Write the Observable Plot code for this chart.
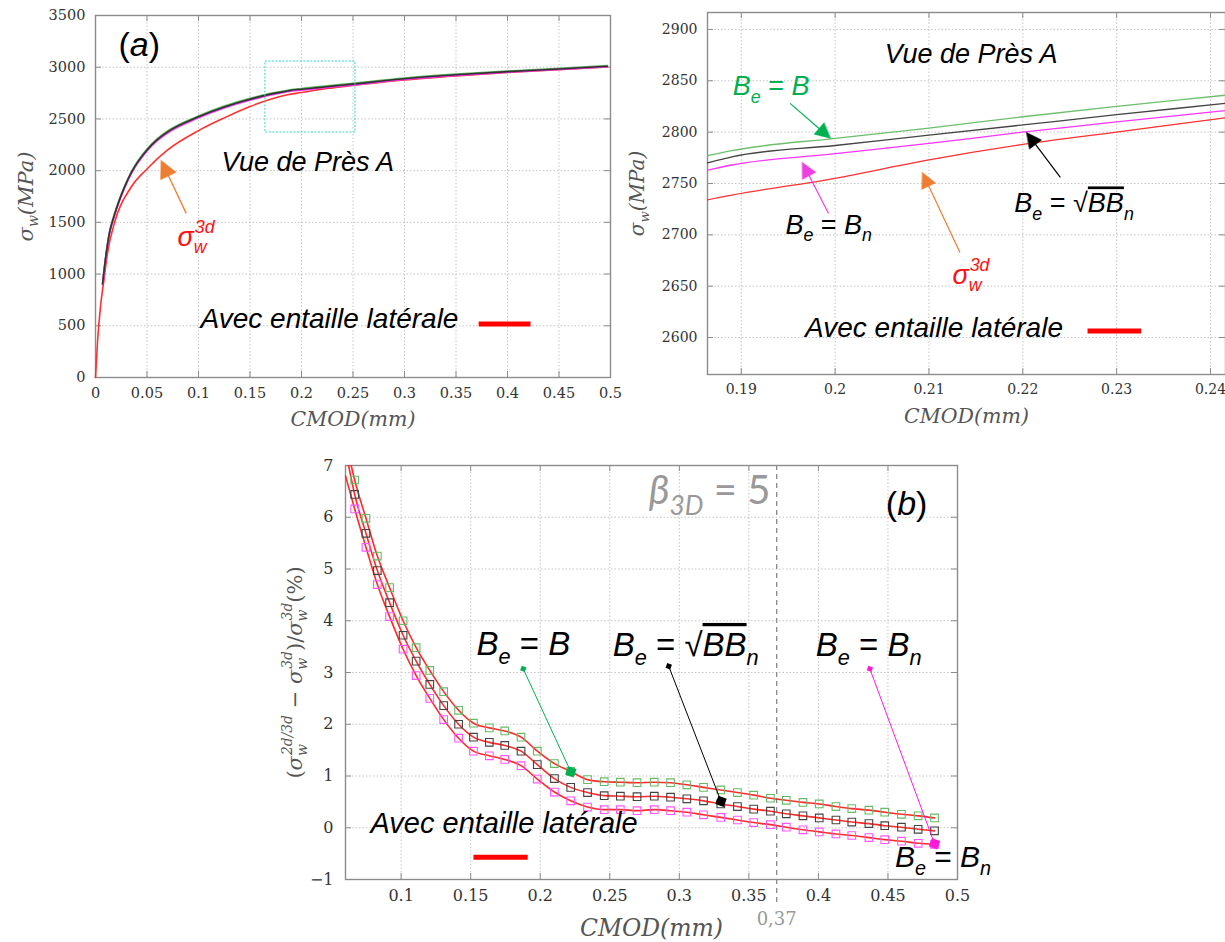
<!DOCTYPE html>
<html><head><meta charset="utf-8">
<script src="https://cdn.jsdelivr.net/npm/d3@7"></script>
<script src="https://cdn.jsdelivr.net/npm/@observablehq/plot@0.6"></script>
<style>
body{margin:0;background:#fff}
#wrap{position:relative;width:1225px;height:942px;overflow:hidden;background:#fff}
.panel{position:absolute}
g[fill="#000001"] text{text-decoration:overline}
</style></head>
<body>
<div id="wrap">
  <div id="pa" class="panel" style="left:0;top:0"></div>
  <div id="pz" class="panel" style="left:620px;top:0"></div>
  <div id="pb" class="panel" style="left:260px;top:440px"></div>
</div>
<script>
// ---------------- DATA ----------------
// Panel (a) and zoom: sigma_w (MPa) vs CMOD (mm)
const cmodSim     = [0.0069, 0.0095, 0.0134, 0.018, 0.023, 0.029, 0.035, 0.05, 0.06, 0.07, 0.1, 0.125, 0.15, 0.17, 0.1864, 0.189, 0.2, 0.21, 0.22, 0.23, 0.2416, 0.3, 0.35, 0.4, 0.45, 0.497];
const sigmaBeB    = [913, 1138, 1398, 1568, 1718, 1868, 1993, 2209, 2309, 2384, 2528, 2623, 2698, 2747, 2777, 2782, 2794, 2804, 2815, 2825, 2836, 2895, 2932, 2962, 2988, 3014];
const sigmaBeSqrt = [905, 1130, 1390, 1560, 1710, 1860, 1985, 2200, 2300, 2375, 2520, 2615, 2690, 2740, 2770, 2776, 2787, 2797, 2807, 2817, 2828, 2889, 2927, 2957, 2983, 3010];
const sigmaBeBn   = [898, 1122, 1382, 1552, 1702, 1851, 1976, 2190, 2290, 2365, 2511, 2606, 2681, 2732, 2763, 2768, 2779, 2789, 2800, 2810, 2821, 2883, 2922, 2953, 2979, 3006];
const cmod3d      = [0, 0.002, 0.005, 0.008, 0.0115, 0.019, 0.0345, 0.05, 0.07, 0.1, 0.125, 0.15, 0.17, 0.1864, 0.2, 0.21, 0.22, 0.23, 0.2416, 0.3, 0.35, 0.4, 0.45, 0.497];
const sigma3d     = [0, 350, 700, 930, 1194, 1516, 1839, 2016, 2200, 2387, 2510, 2620, 2690, 2734, 2755, 2773, 2788, 2800, 2814, 2876, 2916, 2950, 2977, 3003];

// Panel (b): relative gap (%) vs CMOD (mm)
const cmodB       = [0.0666, 0.0747, 0.0829, 0.0917, 0.1014, 0.1108, 0.1206, 0.1306, 0.1413, 0.152, 0.1634, 0.1745, 0.1862, 0.1979, 0.2102, 0.2219, 0.234, 0.246, 0.2576, 0.2696, 0.282, 0.2937, 0.3054, 0.3174, 0.3298, 0.3418, 0.3535, 0.3655, 0.3769, 0.3889, 0.4006, 0.4126, 0.424, 0.4363, 0.4477, 0.4597, 0.4717, 0.4835];
const ecartBeB    = [6.72, 5.98, 5.25, 4.64, 4.0, 3.48, 3.04, 2.63, 2.27, 2.02, 1.93, 1.87, 1.75, 1.48, 1.24, 1.09, 0.93, 0.89, 0.88, 0.87, 0.88, 0.87, 0.83, 0.78, 0.73, 0.68, 0.63, 0.57, 0.53, 0.49, 0.46, 0.41, 0.37, 0.34, 0.30, 0.26, 0.23, 0.19];
const ecartBeSqrt = [6.44, 5.69, 4.97, 4.35, 3.72, 3.22, 2.77, 2.36, 2.0, 1.75, 1.65, 1.59, 1.48, 1.22, 0.95, 0.78, 0.68, 0.62, 0.61, 0.60, 0.61, 0.59, 0.56, 0.52, 0.46, 0.41, 0.36, 0.32, 0.27, 0.23, 0.19, 0.15, 0.11, 0.08, 0.04, 0.01, -0.03, -0.06];
const ecartBeBn   = [6.16, 5.42, 4.70, 4.08, 3.45, 2.94, 2.50, 2.09, 1.73, 1.48, 1.39, 1.32, 1.20, 0.94, 0.69, 0.52, 0.40, 0.35, 0.35, 0.33, 0.35, 0.33, 0.30, 0.25, 0.20, 0.15, 0.10, 0.06, 0.01, -0.04, -0.08, -0.12, -0.15, -0.19, -0.23, -0.26, -0.30, -0.32];
// where the fitted red curves enter the top of panel (b): [B, sqrt(B Bn), Bn]
const curveStartCmod  = [0.0641, 0.0622, 0.0600];
const curveStartEcart = [7.0, 7.0, 6.8];

// tick labels
const ticksXA = [0, 0.05, 0.1, 0.15, 0.2, 0.25, 0.3, 0.35, 0.4, 0.45, 0.5];
const ticksYA = [0, 500, 1000, 1500, 2000, 2500, 3000, 3500];
const ticksXZ = [0.19, 0.2, 0.21, 0.22, 0.23, 0.24];
const ticksYZ = [2600, 2650, 2700, 2750, 2800, 2850, 2900];
const ticksXB = [0.1, 0.15, 0.2, 0.25, 0.3, 0.35, 0.4, 0.45, 0.5];
const ticksYB = [-1, 0, 1, 2, 3, 4, 5, 6, 7];
const zoomBoxCmod  = [0.165, 0.2524];
const zoomBoxSigma = [2369, 3055];
const betaCmod = [0.37];

// ---------------- HELPERS ----------------
const TICK = "DejaVu Serif";     // LaTeX-like axis text
const ANN = "Liberation Sans";   // annotation text
const C = {green: "#5cb85c", black: "#333333", magenta: "#ff33ff", red: "#ff3030",
           annGreen: "#00b050", annMag: "#ee3ee0", orange: "#ed7d31", grid: "#c4c4c4", frame: "#8c8c8c"};
const fmt = d => d === 0 ? "0" : String(+d.toFixed(2)).replace("-", "\u2212");
const rows = (xs, ys) => xs.map((x, i) => ({x, y: ys[i]}));

const mctx = document.createElement("canvas").getContext("2d");
function tw(t, size, style, fam) { mctx.font = `${style} ${size}px "${fam}"`; return mctx.measureText(t).width; }

// pieces: {t, style, sub, sup, fill}
function mathLabel(pieces, o) {
  const size = o.fontSize, fam = o.fontFamily || ANN, base = o.fontStyle || "italic";
  const items = []; let adv = 0;
  for (const p of pieces) {
    const st = p.style || base;
    if (p.t) { items.push({t: p.t, size, off: adv, shift: 0, style: st, fill: p.fill}); adv += tw(p.t, size, st, fam); }
    const ss = size * 0.66; let w = 0;
    if (p.sub) { items.push({t: p.sub, size: ss, off: adv, shift: size * 0.27, style: p.subStyle || base}); w = Math.max(w, tw(p.sub, ss, p.subStyle || base, fam)); }
    if (p.sup) { items.push({t: p.sup, size: ss, off: adv + 1, shift: -size * 0.47, style: p.supStyle || base}); w = Math.max(w, tw(p.sup, ss, p.supStyle || base, fam) + 1); }
    adv += w + (p.gap || 0);
  }
  const start = o.anchor === "middle" ? -adv / 2 : 0;
  return items.map(it => {
    const along = start + it.off;
    const [ddx, ddy] = o.rotate === -90 ? [it.shift, -along] : [along, it.shift];
    const opts = {text: d => d.t, fontSize: it.size, fontFamily: fam, fontStyle: it.style,
      fill: it.fill || o.fill || "#000", textAnchor: "start", lineAnchor: "bottom",
      rotate: o.rotate || 0, dx: (o.dx || 0) + ddx, dy: (o.dy || 0) + ddy};
    if (o.x != null) return Plot.text([{t: it.t, x: o.x, y: o.y}], {...opts, x: "x", y: "y"});
    return Plot.text([{t: it.t}], {...opts, frameAnchor: o.frameAnchor});
  });
}

function decor(W, H, m, xt, yt) {
  const fw = W - m.l - m.r, fh = H - m.t - m.b;
  return [
    Plot.ruleX(xt, {x: d => d, stroke: C.grid, strokeDasharray: "1.5,2"}),
    Plot.ruleY(yt, {y: d => d, stroke: C.grid, strokeDasharray: "1.5,2"}),
    Plot.tickX(xt, {x: d => d, insetTop: fh - 6, stroke: C.frame}),
    Plot.tickX(xt, {x: d => d, insetBottom: fh - 6, stroke: C.frame}),
    Plot.tickY(yt, {y: d => d, insetRight: fw - 6, stroke: C.frame}),
    Plot.tickY(yt, {y: d => d, insetLeft: fw - 6, stroke: C.frame}),
    Plot.frame({stroke: C.frame, strokeWidth: 1.4})
  ];
}

const headShape = {draw(ctx, l, r) { ctx.moveTo(0, -l); ctx.lineTo(r, 0); ctx.lineTo(-r, 0); ctx.closePath(); }};
function arrow(a, sx, sy, color, len, half, width) {
  const X1 = sx.apply(a.x1), Y1 = sy.apply(a.y1), X2 = sx.apply(a.x2), Y2 = sy.apply(a.y2);
  const ang = Math.atan2(X2 - X1, -(Y2 - Y1)) * 180 / Math.PI;
  const L = Math.hypot(X2 - X1, Y2 - Y1), t = (L - len * 0.7) / L;
  const bx = sx.invert(X1 + (X2 - X1) * t), by = sy.invert(Y1 + (Y2 - Y1) * t);
  return [
    Plot.link([a], {x1: "x1", y1: "y1", x2: () => bx, y2: () => by, stroke: color, strokeWidth: width}),
    Plot.vector([a], {x: "x2", y: "y2", rotate: ang, length: len, r: half, anchor: "end", shape: headShape, fill: color, stroke: color, strokeWidth: 0.5})
  ];
}
const Be = () => [{t: "B", sub: "e"}, {t: " = ", style: "normal"}];
const axisText = (size) => ({fontFamily: TICK, fontSize: size, fill: "#555"});

// ---------------- PANEL (a) ----------------
{
  const W = 620, H = 440, m = {l: 95, r: 10, t: 15, b: 63};
  const sx = Plot.scale({x: {domain: [0, 0.5], range: [m.l, W - m.r]}});
  const sy = Plot.scale({y: {domain: [0, 3500], range: [H - m.b, m.t]}});
  const plot = Plot.plot({
    width: W, height: H, marginLeft: m.l, marginRight: m.r, marginTop: m.t, marginBottom: m.b,
    style: {fontFamily: TICK, fontSize: "14.5px", color: "#333", background: "transparent", overflow: "visible"},
    x: {domain: [0, 0.5], ticks: ticksXA, tickFormat: fmt, tickSize: 0, tickPadding: 10, label: null},
    y: {domain: [0, 3500], ticks: ticksYA, tickFormat: fmt, tickSize: 0, tickPadding: 10, label: null},
    marks: [
      ...decor(W, H, m, ticksXA, ticksYA),
      Plot.line(rows(cmod3d, sigma3d), {x: "x", y: "y", stroke: C.red, strokeWidth: 1.6, curve: "monotone-x"}),
      Plot.line(rows(cmodSim, sigmaBeB), {x: "x", y: "y", stroke: C.green, strokeWidth: 1.8, curve: "monotone-x"}),
      Plot.line(rows(cmodSim, sigmaBeBn), {x: "x", y: "y", stroke: C.magenta, strokeWidth: 1.8, curve: "monotone-x"}),
      Plot.line(rows(cmodSim, sigmaBeSqrt), {x: "x", y: "y", stroke: C.black, strokeWidth: 1.6, curve: "monotone-x"}),
      Plot.rect([{x1: zoomBoxCmod[0], x2: zoomBoxCmod[1], y1: zoomBoxSigma[0], y2: zoomBoxSigma[1]}],
        {x1: "x1", x2: "x2", y1: "y1", y2: "y2", fill: "none", stroke: "#30d0d0", strokeDasharray: "2,1.5", strokeWidth: 1}),
      ...arrow({x1: 0.0881, y1: 1587, x2: 0.0638, y2: 2098}, sx, sy, C.orange, 17, 8.5, 1.3),
      ...mathLabel([{t: "(", style: "normal"}, {t: "a"}, {t: ")", style: "normal"}], {x: 0.0223, y: 3104, fontSize: 34}),
      ...mathLabel([{t: "Vue de Près A"}], {x: 0.1223, y: 2001, fontSize: 27}),
      ...mathLabel([{t: "σ", sub: "w", sup: "3d"}], {x: 0.0796, y: 1276, fontSize: 27, fill: "#ff1010"}),
      ...mathLabel([{t: "Avec entaille latérale"}], {x: 0.102, y: 474, fontSize: 28}),
      Plot.link([{x1: 0.372, x2: 0.4223, y: 517}], {x1: "x1", x2: "x2", y1: "y", y2: "y", stroke: "#ff0000", strokeWidth: 5}),
      ...mathLabel([{t: "σ", sub: "w"}, {t: "(MPa)"}], {frameAnchor: "left", dx: -63, rotate: -90, anchor: "middle", ...axisText(21)}),
      ...mathLabel([{t: "CMOD(mm)"}], {frameAnchor: "bottom", dy: 48, anchor: "middle", ...axisText(20.5)})
    ]
  });
  document.getElementById("pa").append(plot);
}

// ---------------- ZOOM PANEL ----------------
{
  const W = 605, H = 440, m = {l: 87, r: 0, t: 12, b: 66};
  const xd = [0.1864, 0.2416], yd = [2564, 2916.5];
  const sx = Plot.scale({x: {domain: xd, range: [m.l, W - m.r]}});
  const sy = Plot.scale({y: {domain: yd, range: [H - m.b, m.t]}});
  const plot = Plot.plot({
    width: W, height: H, marginLeft: m.l, marginRight: m.r, marginTop: m.t, marginBottom: m.b,
    style: {fontFamily: TICK, fontSize: "14px", color: "#333", background: "transparent", overflow: "visible"},
    x: {domain: xd, ticks: ticksXZ, tickFormat: fmt, tickSize: 0, tickPadding: 10, label: null},
    y: {domain: yd, ticks: ticksYZ, tickFormat: fmt, tickSize: 0, tickPadding: 10, label: null},
    marks: [
      ...decor(W, H, m, ticksXZ, ticksYZ),
      Plot.line(rows(cmod3d, sigma3d), {x: "x", y: "y", stroke: C.red, strokeWidth: 1.3, curve: "monotone-x", clip: true}),
      Plot.line(rows(cmodSim, sigmaBeB), {x: "x", y: "y", stroke: "#6cbf6c", strokeWidth: 1.3, curve: "monotone-x", clip: true}),
      Plot.line(rows(cmodSim, sigmaBeSqrt), {x: "x", y: "y", stroke: "#444", strokeWidth: 1.3, curve: "monotone-x", clip: true}),
      Plot.line(rows(cmodSim, sigmaBeBn), {x: "x", y: "y", stroke: C.magenta, strokeWidth: 1.3, curve: "monotone-x", clip: true}),
      ...arrow({x1: 0.1952, y1: 2828, x2: 0.1995, y2: 2794}, sx, sy, C.annGreen, 15, 7.5, 1.2),
      ...arrow({x1: 0.1993, y1: 2720.8, x2: 0.1965, y2: 2770.5}, sx, sy, C.annMag, 15, 7.5, 1.2),
      ...arrow({x1: 0.2133, y1: 2682.8, x2: 0.2093, y2: 2760.7}, sx, sy, C.orange, 15, 7.5, 1.2),
      ...arrow({x1: 0.2240, y1: 2755.9, x2: 0.2204, y2: 2799.7}, sx, sy, "#000", 15, 7.5, 1.2),
      ...mathLabel([{t: "Vue de Près A"}], {x: 0.2053, y: 2867, fontSize: 27}),
      ...mathLabel([...Be(), {t: "B"}], {x: 0.1891, y: 2835.7, fontSize: 27, fill: C.annGreen}),
      ...mathLabel([...Be(), {t: "B", sub: "n"}], {x: 0.1947, y: 2701, fontSize: 27}),
      ...mathLabel([...Be(), {t: "√", style: "normal"}, {t: "BB", sub: "n", fill: "#000001"}], {x: 0.2191, y: 2721.8, fontSize: 27}),
      ...mathLabel([{t: "σ", sub: "w", sup: "3d"}], {x: 0.2125, y: 2652.6, fontSize: 27, fill: "#ff1010"}),
      ...mathLabel([{t: "Avec entaille latérale"}], {x: 0.1968, y: 2601, fontSize: 28}),
      Plot.link([{x1: 0.2269, x2: 0.2326, y: 2606.3}], {x1: "x1", x2: "x2", y1: "y", y2: "y", stroke: "#ff0000", strokeWidth: 5}),
      ...mathLabel([{t: "σ", sub: "w"}, {t: "(MPa)"}], {frameAnchor: "left", dx: -64, rotate: -90, anchor: "middle", ...axisText(20)}),
      ...mathLabel([{t: "CMOD(mm)"}], {frameAnchor: "bottom", dy: 48, anchor: "middle", ...axisText(20.5)})
    ]
  });
  document.getElementById("pz").append(plot);
}

// ---------------- PANEL (b) ----------------
{
  const W = 740, H = 502, m = {l: 85, r: 43, t: 25, b: 63};
  const xd = [0.06, 0.5], yd = [-1, 7];
  const series = [
    {vals: ecartBeB, k: 0, mk: "#66bb66"},
    {vals: ecartBeSqrt, k: 1, mk: "#444"},
    {vals: ecartBeBn, k: 2, mk: "#ff55ff"}
  ];
  const curveMarks = series.map(s => Plot.line(
    [{x: curveStartCmod[s.k], y: curveStartEcart[s.k]}, ...rows(cmodB, s.vals)],
    {x: "x", y: "y", stroke: "#ff2a2a", strokeWidth: 1.6, curve: "monotone-x", clip: true}));
  const markerMarks = series.map(s => Plot.dot(rows(cmodB, s.vals),
    {x: "x", y: "y", symbol: "square", r: 4.3, stroke: s.mk, strokeWidth: 1.1, fill: "none"}));
  const pointers = [
    {x1: 0.1878, y1: 3.07, x2: 0.222, y2: 1.08, c: C.annGreen},
    {x1: 0.2924, y1: 3.12, x2: 0.330, y2: 0.51, c: "#000"},
    {x1: 0.437, y1: 3.07, x2: 0.4835, y2: -0.31, c: "#ff1ad9"}
  ];
  const plot = Plot.plot({
    width: W, height: H, marginLeft: m.l, marginRight: m.r, marginTop: m.t, marginBottom: m.b,
    style: {fontFamily: TICK, fontSize: "16px", color: "#333", background: "transparent", overflow: "visible"},
    x: {domain: xd, ticks: ticksXB, tickFormat: fmt, tickSize: 0, tickPadding: 10, label: null},
    y: {domain: yd, ticks: ticksYB, tickFormat: fmt, tickSize: 0, tickPadding: 12, label: null},
    marks: [
      ...decor(W, H, m, ticksXB, ticksYB),
      Plot.ruleX(betaCmod, {x: d => d, stroke: "#888", strokeDasharray: "5,4", strokeWidth: 1.3, insetBottom: -26}),
      Plot.text(betaCmod, {x: d => d, text: d => String(d).replace(".", ","), frameAnchor: "bottom", dy: 40, fill: "#999", fontSize: 18, fontFamily: TICK, lineAnchor: "middle"}),
      ...curveMarks,
      ...markerMarks,
      ...pointers.map(p => Plot.link([p], {x1: "x1", y1: "y1", x2: "x2", y2: "y2", stroke: p.c, strokeWidth: 1})),
      ...pointers.map(p => Plot.dot([p], {x: "x1", y: "y1", symbol: "square", r: 2.8, fill: p.c, rotate: 20})),
      ...pointers.map(p => Plot.dot([p], {x: "x2", y: "y2", symbol: "square", r: 5, fill: p.c, rotate: 20})),
      ...mathLabel([{t: "β", sub: "3D"}, {t: " = 5", style: "normal"}], {x: 0.278, y: 6.26, fontSize: 40, fontFamily: "Lato", fill: "#999"}),
      ...mathLabel([{t: "(", style: "normal"}, {t: "b"}, {t: ")", style: "normal"}], {x: 0.4485, y: 6.05, fontSize: 34}),
      ...mathLabel([...Be(), {t: "B"}], {x: 0.1542, y: 3.34, fontSize: 33}),
      ...mathLabel([...Be(), {t: "√", style: "normal"}, {t: "BB", sub: "n", fill: "#000001"}], {x: 0.2521, y: 3.32, fontSize: 33}),
      ...mathLabel([...Be(), {t: "B", sub: "n"}], {x: 0.3981, y: 3.32, fontSize: 33}),
      ...mathLabel([...Be(), {t: "B", sub: "n"}], {x: 0.455, y: -0.75, fontSize: 30}),
      ...mathLabel([{t: "Avec entaille latérale"}], {x: 0.078, y: -0.1, fontSize: 29}),
      Plot.link([{x1: 0.152, x2: 0.191, y: -0.57}], {x1: "x1", x2: "x2", y1: "y", y2: "y", stroke: "#ff0000", strokeWidth: 5}),
      ...mathLabel([{t: "(", style: "normal"}, {t: "σ", sub: "w", sup: "2d/3d"}, {t: " − ", style: "normal"}, {t: "σ", sub: "w", sup: "3d"},
                    {t: ")/", style: "normal"}, {t: "σ", sub: "w", sup: "3d"}, {t: "(%)", style: "normal"}],
                   {frameAnchor: "left", dx: -44, rotate: -90, anchor: "middle", ...axisText(21)}),
      ...mathLabel([{t: "CMOD(mm)"}], {frameAnchor: "bottom", dy: 56, anchor: "middle", ...axisText(23.5)})
    ]
  });
  document.getElementById("pb").append(plot);
}
</script>
</body></html>
